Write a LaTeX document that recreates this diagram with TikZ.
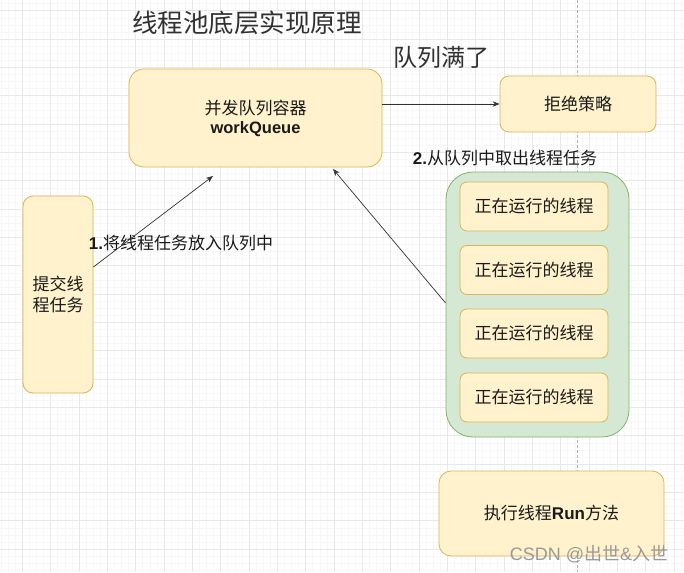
\documentclass[tikz,border=0pt]{standalone}
\usepackage{fontspec}
\setmainfont{Noto Sans CJK SC}
\newfontfamily\lat{Liberation Sans}
\usetikzlibrary{arrows.meta}
\definecolor{yfill}{HTML}{FFF2CC}
\definecolor{ydraw}{HTML}{D6B656}
\definecolor{gfill}{HTML}{D5E8D4}
\definecolor{gdraw}{HTML}{82B366}
\definecolor{txt}{HTML}{1A1A1A}
\definecolor{gmajor}{HTML}{E8E8E8}
\definecolor{gminor}{HTML}{F7F7F7}
\tikzset{
  ybox/.style={draw=ydraw, fill=yfill, line width=0.8pt, rectangle, inner sep=0pt, text=txt, font=\fontsize{17}{21}\selectfont, align=center},
  gbox/.style={draw=gdraw, fill=gfill, line width=0.8pt, rectangle, inner sep=0pt},
  arr/.style={draw=black!80, line width=0.7pt, -{Stealth[length=7pt,width=5.5pt]}},
  lbl/.style={inner sep=0pt, text=txt, font=\fontsize{17}{21}\selectfont},
  bigt/.style={inner sep=0pt, text=txt!90, font=\fontsize{24}{28}\selectfont},
}
\begin{document}
\begin{tikzpicture}[x=1pt,y=-1pt]
\useasboundingbox (0,0) rectangle (684,572);
\fill[white] (0,0) rectangle (684,572);
% grid
\foreach \i in {0,...,96}{
  \pgfmathsetmacro{\xx}{1.05+7.0833*\i}
  \draw[gminor, line width=0.5pt] (\xx,0) -- (\xx,572);
}
\foreach \i in {0,...,80}{
  \pgfmathsetmacro{\yy}{3.6+7.0833*\i}
  \draw[gminor, line width=0.5pt] (0,\yy) -- (684,\yy);
}
\foreach \i in {0,...,23}{
  \pgfmathsetmacro{\xx}{22.3+28.333*\i}
  \draw[gmajor, line width=0.6pt] (\xx,0) -- (\xx,572);
}
\foreach \i in {0,...,19}{
  \pgfmathsetmacro{\yy}{10.7+28.333*\i}
  \draw[gmajor, line width=0.6pt] (0,\yy) -- (684,\yy);
}
% page break
\draw[black!30, line width=0.6pt, dash pattern=on 3pt off 2pt] (577,0) -- (577,572);

% title texts
\node[bigt, font=\fontsize{25.5}{30}\selectfont] (title) at (247,23) {线程池底层实现原理};
\node[bigt] (full) at (441,57) {队列满了};

% boxes
\node[ybox, minimum width=253pt, minimum height=98pt, rounded corners=15pt] (queue) at (255.5,118)
  {并发队列容器\\[-2pt]{\lat\bfseries\fontsize{16.5}{20}\selectfont workQueue}};
\node[ybox, minimum width=156pt, minimum height=56pt, rounded corners=9pt] (reject) at (578,104) {拒绝策略};
\node[ybox, minimum width=70pt, minimum height=197pt, rounded corners=10pt] (submit) at (58,294.5) {提交线\\程任务};
\node[gbox, minimum width=183pt, minimum height=265pt, rounded corners=27pt] (pool) at (537.5,304.5) {};
\node[ybox, minimum width=148pt, minimum height=49pt, rounded corners=7pt] (t1) at (534,206.5) {正在运行的线程};
\node[ybox, minimum width=148pt, minimum height=49pt, rounded corners=7pt] (t2) at (534,270) {正在运行的线程};
\node[ybox, minimum width=148pt, minimum height=49pt, rounded corners=7pt] (t3) at (534,333.5) {正在运行的线程};
\node[ybox, minimum width=148pt, minimum height=49pt, rounded corners=7pt] (t4) at (534,397.5) {正在运行的线程};
\node[ybox, minimum width=225pt, minimum height=85pt, rounded corners=12pt] (run) at (551.5,513.5) {执行线程{\lat\bfseries Run}方法};

% labels
\node[lbl] (l1) at (181,243) {{\lat\bfseries 1.}将线程任务放入队列中};
\node[lbl] (l2) at (505,158) {{\lat\bfseries 2.}从队列中取出线程任务};

% connectors
\coordinate (a1end) at (213,176);
\coordinate (a2end) at (333,169);
\draw[arr] (queue.east |- reject.west) -- (reject.west);
\draw[arr] ([yshift=27.5pt]submit.east) -- (a1end);
\draw[arr] ([yshift=1.5pt]pool.west) -- (a2end);

% watermark
\node[inner sep=0pt, text=black!40, font=\fontsize{18}{21}\selectfont] (wm) at (589,554) {{\lat CSDN @}出世{\lat \&}入世};
\end{tikzpicture}
\end{document}
